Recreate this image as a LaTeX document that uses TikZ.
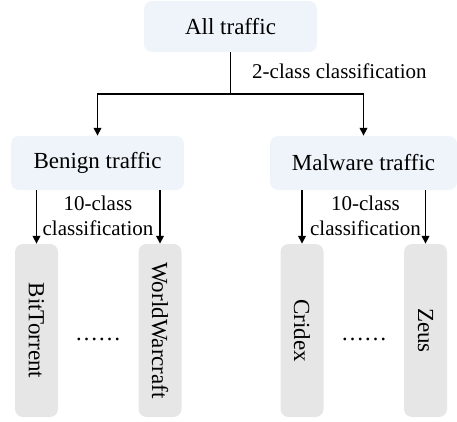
\documentclass[tikz,border=0pt]{standalone}
\usepackage{fontspec}
\setmainfont{Liberation Serif}
\usetikzlibrary{arrows.meta}
\definecolor{topfill}{HTML}{EEF4F9}
\definecolor{leaffill}{HTML}{E6E6E6}
\begin{document}
\begin{tikzpicture}[x=1pt,y=-1pt,
  catbox/.style={fill=topfill,rounded corners=8pt,inner sep=0pt,
    font=\fontsize{23}{27}\selectfont},
  leafbox/.style={fill=leaffill,rounded corners=8pt,inner sep=0pt,
    minimum width=43pt,minimum height=173pt},
  leaftext/.style={rotate=-90,font=\fontsize{23}{27}\selectfont},
  lbl/.style={font=\fontsize{21}{25}\selectfont,inner sep=0pt},
  arr/.style={line width=1.8pt,-{Triangle[length=8pt,width=7.5pt]}},
  ln/.style={line width=1.8pt}]
\useasboundingbox (0,0) rectangle (457,422);

% category boxes
\node[catbox,minimum width=173pt,minimum height=51pt] (all) at (230.5,26.5) {All traffic};
\node[catbox,minimum width=173pt,minimum height=54pt] (benign) at (97.5,163) {Benign traffic};
\node[catbox,minimum width=187pt,minimum height=54pt] (malware) at (363.5,163) {Malware traffic};

% leaf boxes
\node[leafbox] (bt) at (36.5,330.5) {};
\node[leafbox] (ww) at (160,330.5) {};
\node[leafbox] (cr) at (302,330.5) {};
\node[leafbox] (ze) at (425.5,330.5) {};
\node[leaftext] at (bt) {BitTorrent};
\node[leaftext] at (ww) {WorldWarcraft};
\node[leaftext] at (cr) {Cridex};
\node[leaftext] at (ze) {Zeus};

% ellipses between leaves
\node[font=\fontsize{23}{27}\selectfont] (dl) at (98,339) {……};
\node[font=\fontsize{23}{27}\selectfont] (dr) at (364,339) {……};

% top split
\draw[ln] (all.south) -- (all.south |- 0,94) coordinate (j);
\draw[arr] (j) -| (benign.north);
\draw[arr] (j) -| (malware.north);
\node[lbl,anchor=west] (two) at (252,71) {2-class classification};

% second level
\draw[arr] (bt.north |- benign.south) -- (bt.north);
\draw[arr] (ww.north |- benign.south) -- (ww.north);
\draw[arr] (cr.north |- malware.south) -- (cr.north);
\draw[arr] (ze.north |- malware.south) -- (ze.north);
\node[lbl,align=center] (tenl) at (98,215.5) {10-class\\classification};
\node[lbl,align=center] (tenr) at (365.5,215.5) {10-class\\classification};
\end{tikzpicture}
\end{document}
